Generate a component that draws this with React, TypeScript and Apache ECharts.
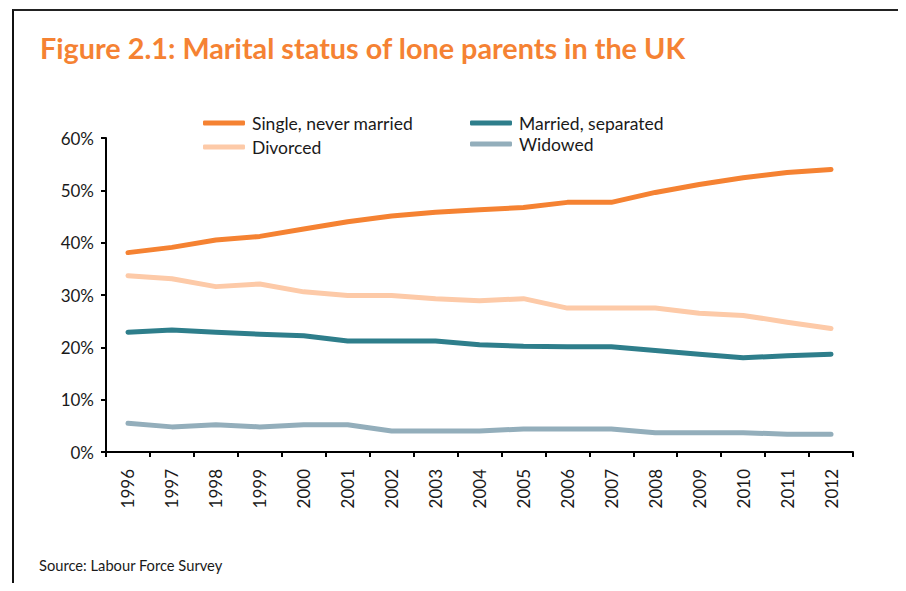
import React, { useEffect, useRef } from "react";
import * as echarts from "echarts";

const years = ["1996","1997","1998","1999","2000","2001","2002","2003","2004","2005","2006","2007","2008","2009","2010","2011","2012"];
const single = [38.1,39.1,40.5,41.2,42.6,44.0,45.1,45.8,46.3,46.7,47.7,47.7,49.6,51.1,52.4,53.4,54.0];
const divorced = [33.7,33.1,31.6,32.1,30.6,29.9,29.9,29.3,28.9,29.3,27.5,27.5,27.5,26.5,26.1,24.8,23.6];
const married = [22.9,23.3,22.9,22.5,22.2,21.2,21.2,21.2,20.5,20.2,20.1,20.1,19.4,18.7,18.0,18.4,18.7];
const widowed = [5.5,4.8,5.2,4.8,5.2,5.2,4.0,4.0,4.0,4.4,4.4,4.4,3.7,3.7,3.7,3.4,3.4];

const seriesNames = ["Single, never married", "Divorced", "Married, separated", "Widowed"];
const seriesColors = ["#F58232", "#FDCAA8", "#2E7E8B", "#93AEBB"];

const FONT = "Lato, 'Open Sans', sans-serif";

export default function App() {
  const ref = useRef<HTMLDivElement>(null);
  useEffect(() => {
    if (!ref.current) return;
    const chart = echarts.init(ref.current, null, { renderer: "svg" });
    const data = [single, divorced, married, widowed];
    const legendCommon = {
      orient: "vertical" as const,
      icon: "roundRect",
      itemWidth: 42,
      itemHeight: 5,
      itemGap: 6,
      textStyle: { fontFamily: FONT, fontSize: 17.5, color: "#1a1a1a", padding: [0, 0, 0, 2] },
      selectedMode: false,
    };
    chart.setOption({
      animation: false,
      backgroundColor: "transparent",
      title: {
        text: "Figure 2.1: Marital status of lone parents in the UK",
        left: 35,
        top: 28,
        textStyle: { fontFamily: FONT, fontWeight: "bold", fontSize: 28.8, color: "#F58233" },
      },
      legend: [
        { ...legendCommon, data: [seriesNames[0], seriesNames[1]], left: 198, top: 109 },
        { ...legendCommon, data: [seriesNames[2], seriesNames[3]], left: 465, top: 109, itemGap: 3 },
      ],
      grid: { left: 106, right: 53, top: 138, bottom: 139, containLabel: false },
      xAxis: {
        type: "category",
        data: years,
        boundaryGap: true,
        axisLine: { lineStyle: { color: "#000", width: 2 } },
        axisTick: { show: true, length: 5, lineStyle: { color: "#000", width: 2 } },
        axisLabel: { rotate: 90, fontFamily: FONT, fontSize: 17, color: "#1a1a1a", margin: 17 },
      },
      yAxis: {
        type: "value",
        min: 0,
        max: 60,
        interval: 10,
        axisLine: { show: true, lineStyle: { color: "#000", width: 2 } },
        axisTick: { show: true, length: 5, lineStyle: { color: "#000", width: 2 } },
        splitLine: { show: false },
        axisLabel: { formatter: "{value}%", fontFamily: FONT, fontSize: 17, color: "#1a1a1a", margin: 12 },
      },
      series: seriesNames.map((name, i) => ({
        name,
        type: "line",
        data: data[i],
        symbol: "none",
        color: seriesColors[i],
        lineStyle: { width: 5, color: seriesColors[i], cap: "round", join: "round" },
        z: 10 - i,
      })),
      graphic: [
        {
          type: "text",
          x: 39,
          y: 557,
          style: { text: "Source: Labour Force Survey", font: `14.7px ${FONT}`, fill: "#1a1a1a" },
        },
      ],
    });
    return () => chart.dispose();
  }, []);
  return (
    <div style={{ position: "relative", width: 906, height: 591, margin: -8, overflow: "hidden", background: "#fff" }}>
      <div
        style={{
          position: "absolute",
          left: 12,
          top: 9,
          width: 890,
          height: 620,
          borderLeft: "2px solid #111",
          borderRight: "2px solid #111",
          borderTop: "2px solid #222",
          pointerEvents: "none",
        }}
      />
      <div ref={ref} style={{ position: "absolute", left: 0, top: 0, width: 906, height: 591 }} />
    </div>
  );
}
